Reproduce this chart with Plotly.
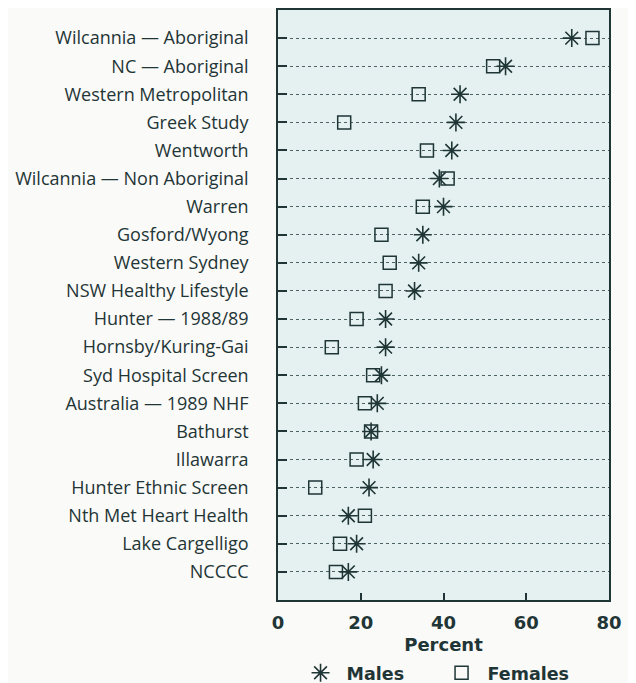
import plotly.graph_objects as go

categories = [
    "Wilcannia — Aboriginal",
    "NC — Aboriginal",
    "Western Metropolitan",
    "Greek Study",
    "Wentworth",
    "Wilcannia — Non Aboriginal",
    "Warren",
    "Gosford/Wyong",
    "Western Sydney",
    "NSW Healthy Lifestyle",
    "Hunter — 1988/89",
    "Hornsby/Kuring-Gai",
    "Syd Hospital Screen",
    "Australia — 1989 NHF",
    "Bathurst",
    "Illawarra",
    "Hunter Ethnic Screen",
    "Nth Met Heart Health",
    "Lake Cargelligo",
    "NCCCC",
]
males = [71, 55, 44, 43, 42, 39, 40, 35, 34, 33, 26, 26, 25, 24, 22.5, 23, 22, 17, 19, 17]
females = [76, 52, 34, 16, 36, 41, 35, 25, 27, 26, 19, 13, 23, 21, 22.5, 19, 9, 21, 15, 14]
x_ticks = [0, 20, 40, 60, 80]

INK = "#1f3536"
positions = list(range(1, len(categories) + 1))

fig = go.Figure()
fig.add_trace(go.Scatter(
    x=males, y=positions, mode="markers", name="Males",
    marker=dict(symbol="asterisk-open", size=15, color=INK,
                line=dict(color=INK, width=1.6)),
))
fig.add_trace(go.Scatter(
    x=females, y=positions, mode="markers", name="Females",
    marker=dict(symbol="square-open", size=13, color=INK,
                line=dict(color=INK, width=1.5)),
))

bold = dict(family="DejaVu Sans", size=18, color=INK, weight="bold")

fig.update_layout(
    width=628, height=675,
    margin=dict(l=270, r=27, t=2, b=83),
    paper_bgcolor="#fafaf8",
    plot_bgcolor="#e4f1f0",
    showlegend=True,
    legend=dict(orientation="h", xref="paper", x=0.05, xanchor="left",
                yref="container", y=0.015, yanchor="middle",
                itemwidth=42, entrywidth=84,
                font=dict(family="DejaVu Sans", size=17.5, color=INK, weight="bold"),
                bgcolor="rgba(0,0,0,0)", itemclick=False),
    xaxis=dict(
        range=[0, 80], tickvals=x_ticks, ticktext=[str(v) for v in x_ticks],
        ticks="inside", ticklen=7, tickwidth=1.5, tickcolor=INK,
        showgrid=False, zeroline=False, automargin=False,
        showline=True, linecolor=INK, linewidth=1.5, mirror=True,
        tickfont=bold, ticklabelstandoff=6,
        title=dict(text="Percent", standoff=19, font=bold),
    ),
    yaxis=dict(
        range=[21, 0], tickvals=positions, ticktext=categories,
        ticks="inside", ticklen=9, tickwidth=2, tickcolor=INK,
        showgrid=True, gridcolor="#4d6264", gridwidth=1.3, griddash="dot",
        zeroline=False, automargin=False,
        showline=True, linecolor=INK, linewidth=1.5, mirror=True,
        tickfont=dict(family="Open Sans", size=18, color=INK),
        ticklabelstandoff=24,
    ),
)

fig.write_html("out.html")
